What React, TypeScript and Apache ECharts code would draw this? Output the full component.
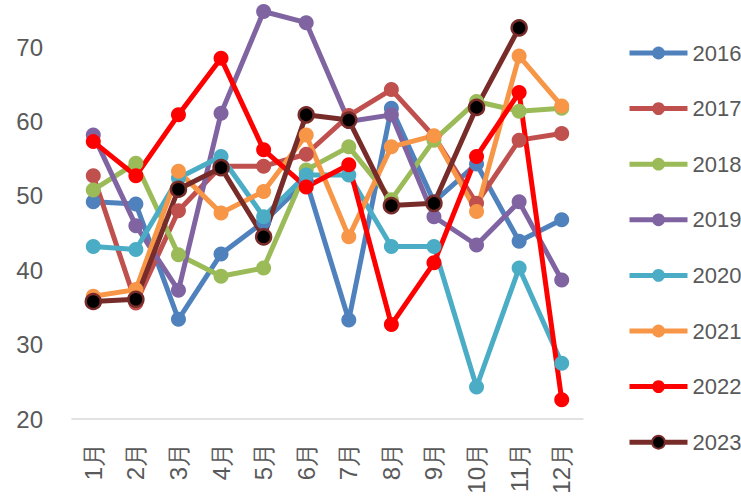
import React, { useEffect, useRef } from "react";
import * as echarts from "echarts";

const months = ["1月", "2月", "3月", "4月", "5月", "6月", "7月", "8月", "9月", "10月", "11月", "12月"];
const seriesNames = ["2016", "2017", "2018", "2019", "2020", "2021", "2022", "2023"];
const v2016 = [49.2, 48.9, 33.4, 42.2, 46.5, 52.0, 33.3, 61.8, 49.2, 54.3, 43.9, 46.8];
const v2017 = [52.7, 35.6, 48.0, 54.0, 54.0, 55.6, 60.8, 64.3, 58.0, 49.0, 57.5, 58.4];
const v2018 = [50.8, 54.4, 42.1, 39.2, 40.3, 53.5, 56.6, 49.5, 57.5, 62.7, 61.4, 61.8];
const v2019 = [58.2, 46.0, 37.3, 61.1, 74.8, 73.3, 60.0, 60.9, 47.2, 43.4, 49.2, 38.7];
const v2020 = [43.2, 42.8, 52.4, 55.3, 47.2, 52.8, 52.8, 43.2, 43.2, 24.3, 40.3, 27.5];
const v2021 = [36.5, 37.4, 53.3, 47.7, 50.6, 58.2, 44.5, 56.6, 58.1, 47.9, 68.8, 62.1];
const v2022 = [57.3, 52.7, 60.9, 68.5, 56.2, 51.2, 54.2, 32.7, 41.0, 55.3, 63.9, 22.6];
const v2023 = [35.8, 36.1, 50.9, 53.8, 44.5, 60.9, 60.2, 48.7, 49.0, 61.9, 72.6, null];
const seriesValues = [v2016, v2017, v2018, v2019, v2020, v2021, v2022, v2023];
const lineColors = ["#4F81BD", "#C0504D", "#9BBB59", "#8064A2", "#4BACC6", "#F79646", "#FF0000", "#772C2A"];
const markerColors = ["#4F81BD", "#C0504D", "#9BBB59", "#8064A2", "#4BACC6", "#F79646", "#FF0000", "#000000"];

const FONT = "Liberation Sans";
const TEXT = "#595959";

export default function App() {
  const ref = useRef<HTMLDivElement>(null);
  useEffect(() => {
    if (!ref.current) return;
    const chart = echarts.init(ref.current, null, { renderer: "svg" });
    chart.setOption({
      animation: false,
      backgroundColor: "#ffffff",
      grid: { left: 72, right: 158, top: 10, bottom: 80 },
      legend: {
        orient: "vertical",
        left: 627,
        top: 42,
        itemWidth: 58,
        itemHeight: 16,
        itemGap: 33.6,
        padding: 0,
        lineStyle: { width: 5 },
        textStyle: { color: TEXT, fontSize: 22, fontFamily: FONT },
        data: seriesNames,
      },
      xAxis: {
        type: "category",
        data: months,
        boundaryGap: true,
        axisLine: { show: true, lineStyle: { color: "#D9D9D9", width: 1.5 } },
        axisTick: { show: false },
        axisLabel: { rotate: 90, margin: 24, color: TEXT, fontSize: 24, fontFamily: FONT, interval: 0 },
        splitLine: { show: false },
      },
      yAxis: {
        type: "value",
        min: 20,
        max: 75,
        interval: 10,
        axisLine: { show: false },
        axisTick: { show: false },
        splitLine: { show: false },
        axisLabel: { margin: 29, color: TEXT, fontSize: 24, fontFamily: FONT, showMaxLabel: false },
      },
      series: seriesNames.map((name, i) => ({
        name,
        type: "line",
        data: seriesValues[i],
        symbol: "circle",
        symbolSize: 15,
        showSymbol: true,
        connectNulls: false,
        clip: false,
        lineStyle: { color: lineColors[i], width: 5 },
        itemStyle: {
          color: markerColors[i],
          borderColor: lineColors[i],
          borderWidth: i === 7 ? 2.5 : 0,
        },
        emphasis: { disabled: true },
      })),
    });
    return () => chart.dispose();
  }, []);
  return <div ref={ref} style={{ position: "absolute", left: 0, top: 0, width: 741, height: 499 }} />;
}
